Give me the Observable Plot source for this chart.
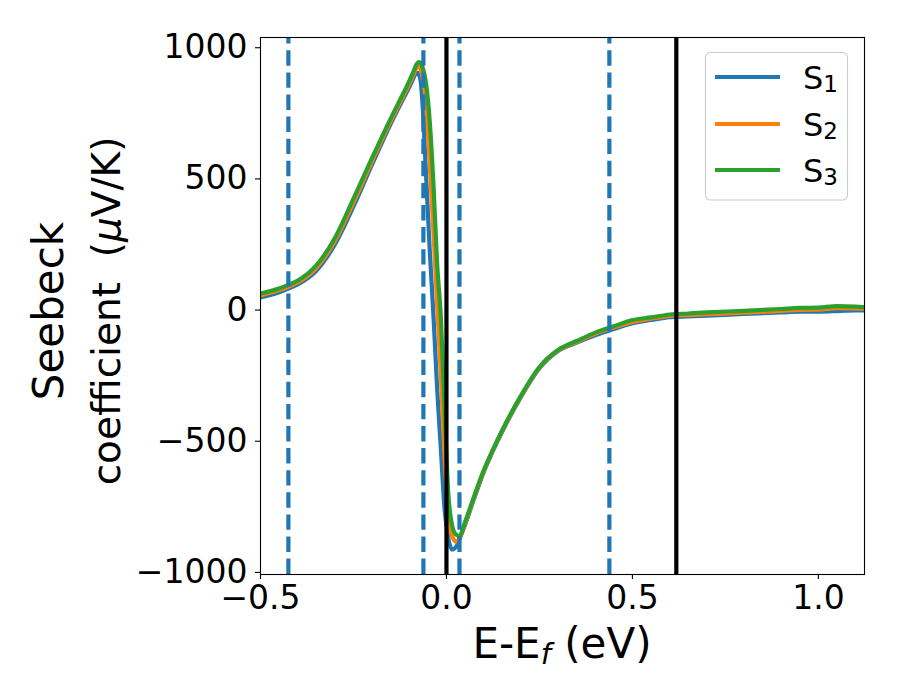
<!DOCTYPE html>
<html>
<head>
<meta charset="utf-8">
<script src="https://cdn.jsdelivr.net/npm/d3@7"></script>
<script src="https://cdn.jsdelivr.net/npm/@observablehq/plot@0.6"></script>
<style>
  html, body { margin: 0; padding: 0; background: white; }
  #chart { position: relative; width: 900px; height: 700px; }
</style>
</head>
<body>
<div id="chart"></div>
<script>
// ---- data ----
const energies = [-0.5, -0.45, -0.425, -0.4, -0.35, -0.3, -0.25, -0.2, -0.15, -0.12, -0.1, -0.09, -0.08, -0.075, -0.07, -0.065, -0.055, -0.045, -0.035, -0.025, -0.015, -0.005, 0.005, 0.015, 0.025, 0.035, 0.05, 0.075, 0.1, 0.125, 0.15, 0.2, 0.25, 0.3, 0.35, 0.4, 0.45, 0.5, 0.55, 0.6, 0.65, 0.7, 0.8, 0.9, 0.95, 1.0, 1.05, 1.1, 1.124];
const s1 = [48, 68, 82, 98, 150, 250, 395, 555, 710, 795, 850, 880, 905, 900, 880, 800, 520, 230, -20, -300, -530, -760, -870, -913, -905, -872, -818, -716, -618, -537, -463, -332, -222, -156, -124, -96, -72, -50, -38, -27, -24, -21, -15, -9, -6, -6, -4, -1, -1];
const s2 = [56, 76, 89, 105, 160, 263, 410, 568, 720, 805, 862, 893, 925, 928, 920, 892, 790, 560, 300, 20, -250, -560, -780, -860, -882, -870, -813, -712, -615, -534, -460, -330, -219, -154, -121, -90, -66, -45, -33, -22, -19, -16, -10, -3, 1, 2, 7, 6, 5];
const s3 = [63, 82, 96, 112, 170, 275, 425, 580, 730, 815, 873, 905, 938, 945, 942, 928, 865, 720, 480, 175, -30, -380, -700, -820, -855, -862, -808, -708, -612, -532, -458, -327, -217, -152, -118, -86, -62, -38, -28, -17, -13, -9, -3, 4, 8, 9, 15, 13, 11];
const seriesNames = ["S1", "S2", "S3"];
const seriesSubs = ["1", "2", "3"];
const dashedLines = [-0.425, -0.062, 0.035, 0.438];
const solidLines = [0.0, 0.618];
const xTicks = [-0.5, 0.0, 0.5, 1.0];
const yTicks = [-1000, -500, 0, 500, 1000];
const xDomain = [-0.5, 1.124];
const yDomain = [-1008, 1039];

// ---- styles ----
const colors = ["#1f77b4", "#ff7f0e", "#2ca02c"];
const font = "DejaVu Sans";

const seriesValues = [s1, s2, s3];
const rows = seriesValues.map(vals => energies.map((e, i) => ({E: e, S: vals[i]})));

const W = 900, H = 700;
const mL = 260, mR = 36, mT = 37, mB = 126;

const chart = Plot.plot({
  width: W, height: H,
  marginLeft: mL, marginRight: mR, marginTop: mT, marginBottom: mB,
  style: {fontFamily: font, fontSize: "33px", color: "black", background: "white", overflow: "visible"},
  x: {domain: xDomain, label: null},
  y: {domain: yDomain, label: null},
  marks: [
    ...rows.map((r, k) => Plot.line(r, {x: "E", y: "S", stroke: colors[k], strokeWidth: 4.2, curve: "monotone-x", clip: true})),
    Plot.ruleX(dashedLines, {x: d => d, y1: yDomain[0], y2: yDomain[1], stroke: "#1f77b4", strokeWidth: 4.2, strokeDasharray: "15.4,6.7"}),
    Plot.ruleX(solidLines, {x: d => d, y1: yDomain[0], y2: yDomain[1], stroke: "black", strokeWidth: 4.2}),
    Plot.frame({stroke: "black", strokeWidth: 1.1}),
    Plot.axisX({ticks: xTicks, tickFormat: d3.format(".1f"), tickSize: 5, tickPadding: 6, label: null, fontSize: 33, strokeWidth: 1.1}),
    Plot.axisY({ticks: yTicks, tickFormat: d3.format("d"), tickSize: 5, tickPadding: 8, label: null, fontSize: 33, strokeWidth: 1.1})
  ]
});

document.getElementById("chart").appendChild(chart);

const svg = d3.select(chart);

// x label
const xl = svg.append("text")
  .attr("x", (mL + W - mR) / 2)
  .attr("y", 658)
  .attr("text-anchor", "middle")
  .attr("font-family", font)
  .attr("font-size", 42)
  .attr("fill", "black");
xl.append("tspan").text("E-E");
xl.append("tspan").attr("font-style", "italic").attr("font-size", 29).attr("dy", 6).text("f");
xl.append("tspan").attr("dy", -6).text(" (eV)");

// y label (two lines)
svg.append("text")
  .attr("transform", "translate(63,311) rotate(-90)")
  .attr("text-anchor", "middle")
  .attr("font-family", font)
  .attr("font-size", 42)
  .attr("fill", "black")
  .text("Seebeck");
const yl2 = svg.append("text")
  .attr("transform", "translate(120,311) rotate(-90)")
  .attr("text-anchor", "middle")
  .attr("font-family", font)
  .attr("font-size", 39)
  .attr("fill", "black")
  .style("white-space", "pre");
yl2.append("tspan").text("coefficient  (");
yl2.append("tspan").attr("font-style", "italic").text("\u03bc");
yl2.append("tspan").text("V/K)");

// legend
const lg = svg.append("g").attr("text-anchor", "start");
lg.append("rect")
  .attr("x", 705.5).attr("y", 52.5).attr("width", 142).attr("height", 147.5)
  .attr("rx", 5).attr("ry", 5)
  .attr("fill", "white").attr("fill-opacity", 0.8)
  .attr("stroke", "#cccccc").attr("stroke-width", 1.1);
const rowY = [77, 124, 170];
seriesNames.forEach((name, k) => {
  lg.append("line")
    .attr("x1", 715).attr("x2", 780)
    .attr("y1", rowY[k]).attr("y2", rowY[k])
    .attr("stroke", colors[k]).attr("stroke-width", 4.2);
  const t = lg.append("text")
    .attr("x", 803).attr("y", rowY[k] + 11.5)
    .attr("text-anchor", "start")
    .attr("font-family", font).attr("font-size", 32).attr("fill", "black");
  t.append("tspan").text(name.slice(0, 1));
  t.append("tspan").attr("font-size", 23).attr("dy", 3.5).text(seriesSubs[k]);
});
</script>
</body>
</html>
